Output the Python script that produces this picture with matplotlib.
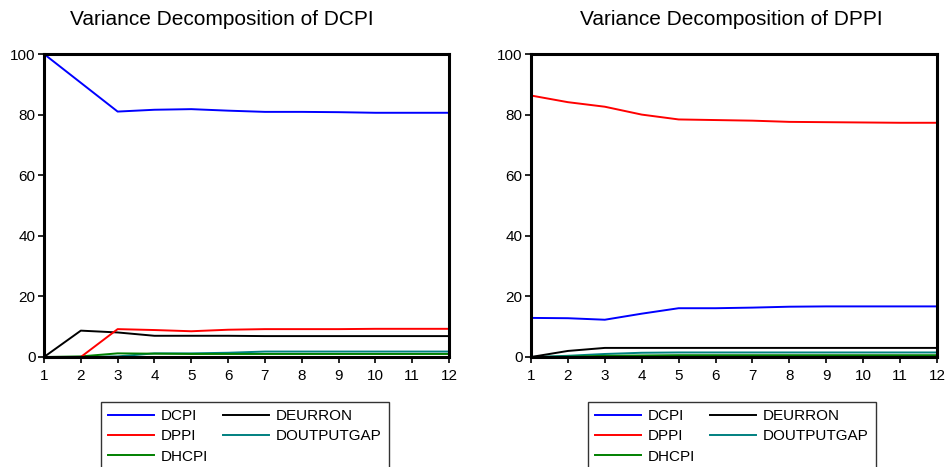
import matplotlib
matplotlib.use("Agg")
import matplotlib.pyplot as plt
from matplotlib.lines import Line2D

plt.rcParams['font.family'] = ['Liberation Sans', 'DejaVu Sans']

periods = list(range(1, 13))

# Variance decomposition of DCPI
dcpi_dcpi = [100, 90.5, 81.0, 81.6, 81.8, 81.3, 80.9, 80.9, 80.8, 80.6, 80.6, 80.6]
dcpi_dppi = [0, 0, 9.2, 8.9, 8.5, 9.0, 9.2, 9.2, 9.2, 9.3, 9.3, 9.3]
dcpi_dhcpi = [0, 0.2, 1.2, 1.1, 1.0, 1.0, 1.0, 1.0, 1.0, 1.0, 1.0, 1.0]
dcpi_deurron = [0, 8.7, 8.1, 7.0, 7.0, 7.0, 6.9, 6.9, 6.9, 6.9, 6.9, 6.9]
dcpi_doutputgap = [0, 0, 0.2, 1.2, 1.2, 1.4, 1.8, 1.8, 1.8, 1.8, 1.8, 1.8]

# Variance decomposition of DPPI
dppi_dcpi = [12.9, 12.8, 12.3, 14.3, 16.1, 16.1, 16.3, 16.6, 16.7, 16.7, 16.7, 16.7]
dppi_dppi = [86.3, 84.1, 82.6, 80.0, 78.4, 78.2, 78.0, 77.6, 77.5, 77.4, 77.3, 77.3]
dppi_dhcpi = [0, 0.1, 0.4, 0.5, 0.6, 0.6, 0.6, 0.6, 0.6, 0.6, 0.6, 0.6]
dppi_deurron = [0, 2.0, 3.0, 3.0, 3.0, 3.0, 3.0, 3.0, 3.0, 3.0, 3.0, 3.0]
dppi_doutputgap = [0, 0.4, 1.0, 1.4, 1.5, 1.5, 1.5, 1.5, 1.5, 1.5, 1.5, 1.5]

names = ['DCPI', 'DPPI', 'DHCPI', 'DEURRON', 'DOUTPUTGAP']
colors = ['#0000ff', '#ff0000', '#008000', '#000000', '#008080']

panels = [
    ('Variance Decomposition of DCPI',
     [dcpi_dcpi, dcpi_dppi, dcpi_dhcpi, dcpi_deurron, dcpi_doutputgap]),
    ('Variance Decomposition of DPPI',
     [dppi_dcpi, dppi_dppi, dppi_dhcpi, dppi_deurron, dppi_doutputgap]),
]

W, H = 947, 467
fig = plt.figure(figsize=(W / 100, H / 100), dpi=100)

# axes boxes in pixels: left, top, right, bottom
boxes = [(44, 54, 449, 357), (531, 54, 937, 357)]
title_x = [222, 731]
legend_x = [101, 588]

for i, (title, series) in enumerate(panels):
    l, t, r, b = boxes[i]
    ax = fig.add_axes([l / W, 1 - b / H, (r - l) / W, (b - t) / H])
    # draw back to front so the big series sit on top like the original
    for k in [4, 2, 3, 1, 0]:
        ax.plot(periods, series[k], color=colors[k], lw=1.4)
    ax.set_xlim(1, 12)
    ax.set_ylim(0, 100)
    ax.set_xticks(periods)
    ax.set_yticks([0, 20, 40, 60, 80, 100])
    ax.tick_params(direction='out', length=4.5, width=1.2, labelsize=11,
                   colors='black')
    ax.tick_params(axis='y', pad=1.5)
    ax.tick_params(axis='x', pad=4.5)
    for s in ax.spines.values():
        s.set_linewidth(2.2)
    fig.text(title_x[i] / W, 1 - 25 / H, title, ha='center',
             va='baseline', fontsize=15)

    handles = [Line2D([], [], color=colors[k], lw=1.4) for k in range(5)]
    leg = fig.legend(handles, names, ncol=2, loc='upper left',
                     bbox_to_anchor=(legend_x[i] / W, 1 - 402 / H),
                     bbox_transform=fig.transFigure,
                     fontsize=11, frameon=True, fancybox=False,
                     handlelength=3.0, handletextpad=0.45,
                     columnspacing=1.0, labelspacing=0.42,
                     borderpad=0.45, borderaxespad=0)
    leg.get_frame().set_edgecolor('black')
    leg.get_frame().set_linewidth(1.0)

fig.savefig('out.png', dpi=100)
